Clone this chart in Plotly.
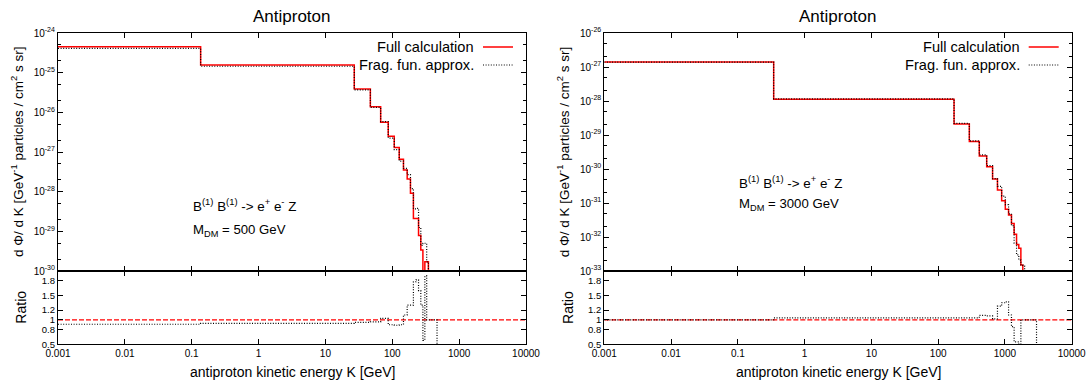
import plotly.graph_objects as go

# ---------------- data: M_DM = 500 GeV ----------------
edges_500 = [0.001, 0.136, 27, 47, 67, 87, 107, 127, 147, 167, 187, 207, 227, 247, 267, 287, 307, 327, 347, 467, 10000]
full_500 = [4.5e-25, 1.56e-25, 3.9e-26, 1.39e-26, 5.6e-27, 2.5e-27, 1.29e-27, 6.6e-28, 3.5e-28, 2.1e-28,
            9.1e-29, 2.1e-29, 2.1e-29, 7.8e-30, 3.4e-30, 0, 1.7e-30, 1.7e-30, 0, 0]
frag_500 = [4.1e-25, 1.45e-25, 3.7e-26, 1.33e-26, 5.8e-27, 2.25e-27, 1.15e-27, 5.9e-28, 3.85e-28, 2.7e-28,
            1.2e-28, 3.7e-29, 3.8e-29, 1.25e-29, 4.4e-30, 5e-30, 5e-30, 1.7e-30, 0, 0]
ratio_500 = [0.91, 0.93, 0.95, 0.96, 1.03, 0.90, 0.89, 0.90, 1.10, 1.30,
             1.30, 1.78, 1.82, 1.60, 1.30, 0.58, 1.90, 1.0, 1.0, 0]

# ---------------- data: M_DM = 3000 GeV ----------------
edges_3000 = [0.001, 0.344, 173, 293, 413, 533, 653, 773, 893, 1013, 1133, 1253, 1373, 1493, 1613, 1733, 1853, 1973, 2973, 10000]
full_3000 = [1.4e-27, 1.12e-28, 2.1e-29, 6.4e-30, 2.4e-30, 1.17e-30, 5.1e-31, 2.4e-31, 1.17e-31, 6.5e-32,
             4.4e-32, 2.5e-32, 1.2e-32, 6e-33, 4.7e-33, 1.5e-33, 0, 0, 0]
frag_3000 = [1.4e-27, 1.16e-28, 2.2e-29, 6.7e-30, 2.6e-30, 1.26e-30, 5.2e-31, 3.1e-31, 1.6e-31, 8.9e-32,
             4.8e-32, 2.15e-32, 6.6e-33, 3e-33, 2.1e-33, 1.5e-33, 1.4e-33, 0, 0]
ratio_3000 = [1.0, 1.04, 1.04, 1.04, 1.09, 1.08, 1.02, 1.28, 1.35, 1.37,
              1.10, 0.86, 0.55, 0.55, 0.45, 1.0, 1.0, 1.0, 0]

x_ticks = [0.001, 0.01, 0.1, 1, 10, 100, 1000, 10000]
x_ticktext = ["0.001", "0.01", "0.1", "1", "10", "100", "1000", "10000"]
ratio_ticks = [0.5, 0.8, 1, 1.2, 1.5, 1.8]
ratio_ticktext = ["0.5", "0.8", "1", "1.2", "1.5", "1.8"]

W, H = 1089, 381
FONT = "Liberation Sans, Arial, sans-serif"
TINY = 1e-40
DOT = "1px,1.6px"


def steps(edges, vals, floor):
    ys = [v if v > 0 else floor for v in vals]
    return list(edges), ys + [ys[-1]]


def px_x(p):
    return p / W


def px_y(p):
    return 1 - p / H


fig = go.Figure()

panels = [
    dict(edges=edges_500, full=full_500, frag=frag_500, ratio=ratio_500,
         xl=58, xr=526, ydec=(-30, -24), mass="500", suffix=("", "2")),
    dict(edges=edges_3000, full=full_3000, frag=frag_3000, ratio=ratio_3000,
         xl=604.3, xr=1071.7, ydec=(-33, -26), mass="3000", suffix=("3", "4")),
]

TOP_T, TOP_B, RAT_B = 33, 271, 344.3
layout = dict(template="none", width=W, height=H, autosize=False, margin=dict(l=0, r=0, t=0, b=0, pad=0),
              plot_bgcolor="white", paper_bgcolor="white", showlegend=False,
              font=dict(family=FONT, color="black", size=14))
annotations = []
shapes = []

for p in panels:
    s_top, s_rat = p["suffix"]
    xa_top = "x" + s_top
    ya_top = "y" + s_top
    xa_rat = "x" + s_rat
    ya_rat = "y" + s_rat
    dom_x = [px_x(p["xl"]), px_x(p["xr"])]

    ex, ey = steps(p["edges"], p["full"], TINY)
    fig.add_trace(go.Scatter(x=ex, y=ey, mode="lines", line=dict(color="#ff0000", width=1.5, shape="hv"),
                             xaxis=xa_top, yaxis=ya_top, name="Full calculation"))
    ex, ey = steps(p["edges"], p["frag"], TINY)
    fig.add_trace(go.Scatter(x=ex, y=ey, mode="lines", line=dict(color="black", width=1.2, dash=DOT, shape="hv"),
                             xaxis=xa_top, yaxis=ya_top, name="Frag. fun. approx."))
    fig.add_trace(go.Scatter(x=[x_ticks[0], x_ticks[-1]], y=[1, 1], mode="lines",
                             line=dict(color="#ff0000", width=1.2, dash="5px,2px"),
                             xaxis=xa_rat, yaxis=ya_rat))
    ex, ey = steps(p["edges"], p["ratio"], 0)
    fig.add_trace(go.Scatter(x=ex, y=ey, mode="lines", line=dict(color="black", width=1.2, dash=DOT, shape="hv"),
                             xaxis=xa_rat, yaxis=ya_rat))

    lo, hi = p["ydec"]
    ytv = [10.0 ** k for k in range(lo, hi + 1)]
    ytt = ["10<sup>%d</sup>" % k for k in range(lo, hi + 1)]

    common = dict(showline=True, linecolor="black", linewidth=1.2, mirror="ticks", ticks="inside",
                  tickcolor="black", ticklen=5, tickwidth=1, showgrid=False, zeroline=False,
                  automargin=False, tickfont=dict(size=10, family=FONT, color="black"))
    layout["xaxis" + s_top] = dict(common, type="log", range=[-3, 4], domain=dom_x,
                                   anchor=ya_top, tickvals=x_ticks, showticklabels=False)
    layout["yaxis" + s_top] = dict(common, type="log", range=[lo, hi],
                                   domain=[px_y(TOP_B), px_y(TOP_T)], anchor=xa_top,
                                   tickvals=ytv, ticktext=ytt,
                                   minor=dict(ticks="inside", ticklen=3, tickcolor="black", dtick="D2"))
    layout["xaxis" + s_rat] = dict(common, type="log", range=[-3, 4], domain=dom_x,
                                   anchor=ya_rat, tickvals=x_ticks, ticktext=x_ticktext)
    layout["yaxis" + s_rat] = dict(common, range=[0.5, 2.0], domain=[px_y(RAT_B), px_y(TOP_B)],
                                   anchor=xa_rat, tickvals=ratio_ticks, ticktext=ratio_ticktext)
    layout["yaxis" + s_rat]["tickfont"] = dict(size=9.5, family=FONT, color="black")

    cx = (p["xl"] + p["xr"]) / 2
    xl = p["xl"]
    annotations.append(dict(text="Antiproton", x=px_x(cx), y=px_y(17), xref="paper", yref="paper",
                            showarrow=False, font=dict(size=17), xanchor="center", yanchor="middle"))
    annotations.append(dict(text="antiproton kinetic energy K [GeV]", x=px_x(cx), y=px_y(371.5),
                            xref="paper", yref="paper", showarrow=False, xanchor="center", yanchor="middle",
                            font=dict(size=14)))
    annotations.append(dict(text="d \u03a6/ d K [GeV<sup>-1</sup> particles / cm<sup>2</sup> s sr]",
                            x=px_x(xl - 41), y=px_y((TOP_T + TOP_B) / 2), xref="paper", yref="paper",
                            showarrow=False, textangle=-90, xanchor="center", yanchor="middle",
                            font=dict(size=13.5)))
    annotations.append(dict(text="Ratio", x=px_x(xl - 37), y=px_y((TOP_B + RAT_B) / 2), xref="paper",
                            yref="paper", showarrow=False, textangle=-90, xanchor="center",
                            yanchor="middle", font=dict(size=14)))
    if p["mass"] == "500":
        lx, ly1, ly2 = 191, 205, 230
    else:
        lx, ly1, ly2 = 737, 182, 204
    annotations.append(dict(text="B<sup>(1)</sup> B<sup>(1)</sup> -> e<sup>+</sup> e<sup>-</sup> Z",
                            x=px_x(lx), y=px_y(ly1), xref="paper", yref="paper", showarrow=False,
                            xanchor="left", yanchor="middle", font=dict(size=13.4)))
    annotations.append(dict(text="M<sub>DM</sub> = %s GeV" % p["mass"],
                            x=px_x(lx), y=px_y(ly2), xref="paper", yref="paper", showarrow=False,
                            xanchor="left", yanchor="middle", font=dict(size=13.2)))
    txt_r = p["xr"] - 50
    for label, yy, col, dash, wd in [("Full calculation", 47, "#ff0000", "solid", 1.5),
                                     ("Frag. fun. approx.", 65, "black", DOT, 1.2)]:
        annotations.append(dict(text=label, x=px_x(txt_r), y=px_y(yy), xref="paper", yref="paper",
                                showarrow=False, xanchor="right", yanchor="middle", font=dict(size=14.6)))
        shapes.append(dict(type="line", xref="paper", yref="paper", x0=px_x(txt_r + 7), x1=px_x(txt_r + 37),
                           y0=px_y(yy), y1=px_y(yy), line=dict(color=col, width=wd, dash=dash)))

layout["annotations"] = annotations
layout["shapes"] = shapes
fig.update_layout(**layout)
fig.write_html("out.html", config={"responsive": False, "displayModeBar": False},
               post_script="document.body.style.margin='0';document.body.style.overflow='hidden';")
